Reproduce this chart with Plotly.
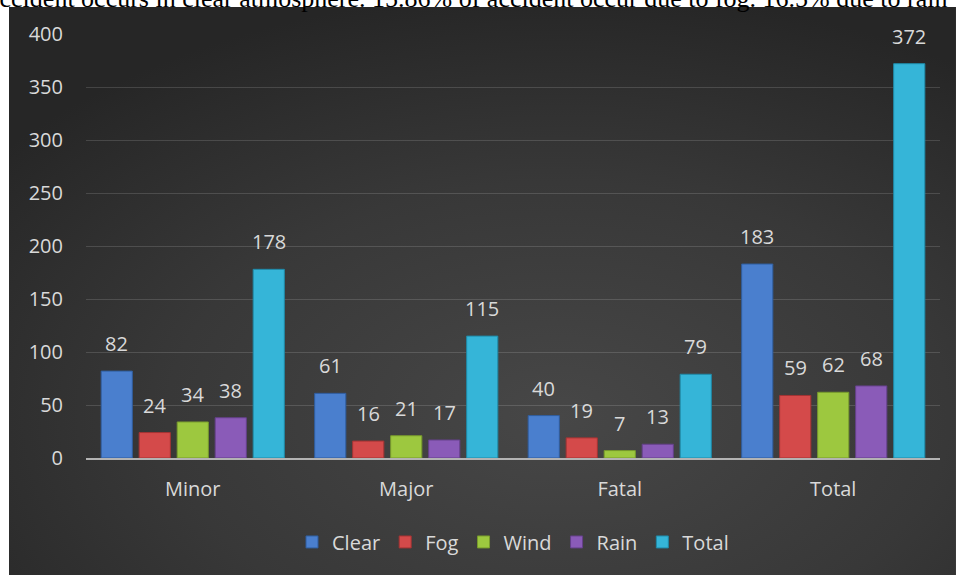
import base64
import plotly.graph_objects as go

# Accident counts by severity and weather condition
categories = ["Minor", "Major", "Fatal", "Total"]
series_names = ["Clear", "Fog", "Wind", "Rain", "Total"]
clear = [82, 61, 40, 183]
fog = [24, 16, 19, 59]
wind = [34, 21, 7, 62]
rain = [38, 17, 13, 68]
total = [178, 115, 79, 372]
y_ticks = [0, 50, 100, 150, 200, 250, 300, 350, 400]

series_values = [clear, fog, wind, rain, total]
colors = ["#4a7fce", "#d44a4a", "#9dc83f", "#8a5bb8", "#35b5d8"]
edge_colors = ["#2f5d9e", "#a33333", "#779a2c", "#64408a", "#1f8aa8"]

pitch = 0.178
bar_w = 0.146
xpos = list(range(len(categories)))

fig = go.Figure()
annotations = []
for k, (name, vals) in enumerate(zip(series_names, series_values)):
    off = (k - 2) * pitch
    fig.add_trace(go.Bar(
        name=name, x=xpos, y=vals, width=bar_w, offset=off - bar_w / 2,
        marker=dict(color=colors[k], line=dict(color=edge_colors[k], width=1)),
        hoverinfo="y",
    ))
    for i, v in enumerate(vals):
        annotations.append(dict(
            x=i + off, y=v, xref="x", yref="y", text=str(v), showarrow=False,
            yanchor="bottom", yshift=12,
            font=dict(family="Open Sans", size=20, color="#d9d9d9"),
        ))

# Caption line sitting above the chart panel
annotations.append(dict(
    x=-0.117, y=1.0835, xref="paper", yref="paper", xanchor="left", yanchor="middle",
    text="accident occurs in clear atmosphere. 15.86% of accident occur due to fog. 16.5% due to rain",
    showarrow=False, font=dict(family="Liberation Serif", size=26, color="#000000"),
))

# Dark radial-gradient panel behind the chart
svg = (
    '<svg xmlns="http://www.w3.org/2000/svg" width="947" height="568" viewBox="0 0 947 568">'
    '<defs><radialGradient id="g" cx="0.58" cy="0.72" r="0.75" fx="0.58" fy="0.72">'
    '<stop offset="0" stop-color="#474747"/><stop offset="0.55" stop-color="#383838"/>'
    '<stop offset="1" stop-color="#262626"/></radialGradient></defs>'
    '<rect width="947" height="568" fill="url(#g)"/></svg>'
)
src = "data:image/svg+xml;base64," + base64.b64encode(svg.encode()).decode()

fig.update_layout(
    width=956, height=575,
    margin=dict(l=86, r=16, t=34, b=117),
    paper_bgcolor="#ffffff", plot_bgcolor="rgba(0,0,0,0)",
    barmode="overlay",
    showlegend=True,
    legend=dict(orientation="h", x=0.5, xanchor="center", y=-0.198, yanchor="middle",
                font=dict(family="Open Sans", size=20, color="#d9d9d9"),
                bgcolor="rgba(0,0,0,0)", itemwidth=30),
    annotations=annotations,
    images=[dict(source=src, xref="paper", yref="paper", x=-0.0902, y=1.0637,
                 sizex=1.1089, sizey=1.3397, xanchor="left", yanchor="top",
                 sizing="stretch", layer="below")],
    xaxis=dict(range=[-0.5, 3.5], tickvals=xpos, ticktext=categories,
               showgrid=False, zeroline=False, showline=True, linecolor="#b3b3b3",
               linewidth=2, ticks="", ticklabelstandoff=12,
               tickfont=dict(family="Open Sans", size=20, color="#d9d9d9")),
    yaxis=dict(range=[0, 400], tickvals=y_ticks, showgrid=True,
               gridcolor="rgba(255,255,255,0.14)", gridwidth=1, zeroline=False,
               showline=False, ticks="", ticklabelstandoff=22,
               tickfont=dict(family="Open Sans", size=20, color="#d9d9d9")),
)

fig.write_html("out.html")
